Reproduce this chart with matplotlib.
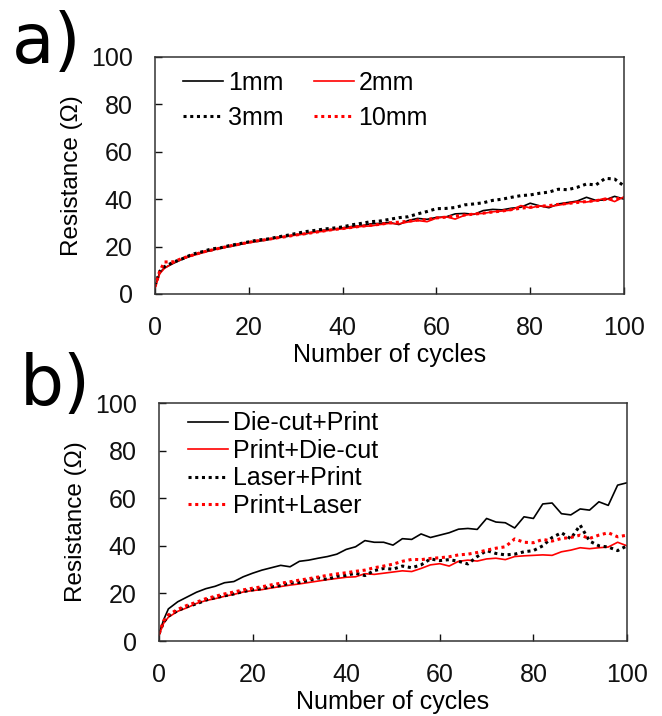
"""
Resistance vs. number of bending cycles: a) line width, b) process order.
"""

import matplotlib.pyplot as plt

plt.rcParams["font.family"] = ["Liberation Sans", "DejaVu Sans"]

# cycle numbers at which the resistance was read
CYCLES = [0, 1] + list(range(2, 101, 2))

# a) line widths (ohm)
R_1MM = [3, 9, 11, 13, 14.8, 16.3, 17.5, 18.3, 19.5, 20, 20.8, 21.9, 22.2, 22.9,
         23.8, 24.2, 25, 25.3, 26.2, 26.9, 27.2, 27.9, 28.5, 28.7, 29.6, 29.8,
         30.2, 29.3, 31, 31.9, 31.5, 32.3, 32.5, 33.8, 34, 33.6, 35.2, 35.7, 35.5,
         36.2, 36.6, 38.3, 37.2, 36.4, 38, 38.6, 39.2, 40.8, 39.5, 39.7, 41.2, 40]
R_2MM = [2.5, 8.5, 10.8, 13.2, 15, 16.2, 17.3, 18.6, 19.2, 20.2, 21, 21.6, 22.4,
         23.1, 23.5, 24.4, 24.8, 25.5, 26, 26.5, 27.1, 27.5, 28, 28.5, 28.7, 29.3,
         29.8, 29.6, 30.4, 31, 30.5, 32, 32.6, 31.6, 33.2, 33.8, 34, 34.7, 35,
         35.4, 37.3, 36.3, 37.2, 36.8, 37.5, 38.1, 39, 38.8, 39.4, 40.4, 39, 41]
R_3MM = [3.5, 9.5, 11.5, 13.5, 15, 16.8, 17.8, 19, 19.5, 20.5, 21.2, 22, 22.8,
         23.2, 24, 24.7, 25.5, 26.3, 26.8, 27.4, 27.8, 28.3, 29.2, 29.8, 30.5,
         30.8, 31.5, 32.2, 32.6, 33.8, 34.8, 36, 36.1, 36.5, 37.6, 38, 38.5, 39.5,
         40, 40.8, 41.5, 41.8, 42.5, 43, 44.2, 44, 45, 46.4, 46, 48.8, 48.5, 45.6]
R_10MM = [3, 9.5, 13.5, 13.6, 15.2, 16.4, 17.6, 18.5, 19.4, 20.3, 21, 21.8, 22.5,
          23, 23.7, 24.2, 24.9, 25.4, 26, 26.6, 27.2, 27.6, 28.1, 28.6, 29, 29.4,
          30, 30.3, 30.7, 31.2, 31.4, 32.1, 32.4, 32.9, 33.3, 33.7, 34.1, 34.6, 35,
          35.6, 36.2, 36.6, 37, 37.3, 37.8, 38.2, 38.6, 39, 39.4, 39.9, 40.2, 40.5]

# b) process order (ohm)
R_DIECUT_PRINT = [3, 9, 13.5, 16.5, 18.5, 20.5, 22, 23, 24.5, 25, 27, 28.5,
                  29.8, 30.8, 31.8, 31.2, 33.5, 34, 34.8, 35.5, 36.5, 38.5, 39.6,
                  42.2, 41.5, 41.5, 40.3, 43, 42.7, 45, 43.5, 44.5, 45.5, 47, 47.3,
                  46.9, 51.5, 50, 49.7, 47.5, 52.2, 51.5, 57.6, 58, 53.5, 53, 55.5,
                  55, 58.5, 57, 65.5, 66.5]
R_PRINT_DIECUT = [2.5, 7.5, 10, 12.5, 14, 15.8, 17, 17.8, 18.8, 19.6, 20.6, 21.2,
                  21.6, 22.3, 22.9, 23.5, 24, 24.6, 25.2, 25.8, 26.3, 26.8, 27,
                  28.3, 28, 28.5, 29, 29.5, 29.2, 30.5, 32, 32.5, 31.5, 33.5, 34,
                  33.6, 34.5, 34.8, 34.2, 35.5, 35.8, 36, 36.2, 36, 37.5, 38.2, 39.2,
                  38.8, 39.2, 39.5, 41.5, 40]
R_LASER_PRINT = [3, 8, 10.5, 12.8, 14.5, 15.6, 17.2, 18.2, 19, 19.8, 20.8, 21.5,
                 22, 22.8, 23.3, 24.4, 24.6, 25.5, 26.5, 25.9, 27.2, 27.6, 28.5,
                 27.5, 29.6, 30.5, 30.2, 31.5, 30.8, 32, 34.5, 33.8, 34.2, 33.5,
                 32.4, 35.5, 38, 36.8, 36.2, 36.5, 37.5, 38, 40, 43.5, 45.5, 43,
                 48.7, 42, 40, 39.5, 38, 40]
R_PRINT_LASER = [3, 8.5, 11, 13.3, 15, 16.3, 17.8, 18.8, 19.8, 20.6, 21.5, 22.2,
                 22.8, 23.6, 24.3, 24.9, 25.6, 26.2, 26.9, 27.6, 28.2, 28.7, 29.3,
                 29.8, 30.8, 31.5, 32.3, 33.5, 34.3, 34.2, 34.7, 35, 35.4, 36.2,
                 36.5, 37.2, 38.2, 39, 39.6, 42.9, 41.5, 41.3, 42.7, 42, 43.1, 43.5,
                 44.5, 43.1, 44.5, 45.5, 43.8, 44.5]

SOLID = dict(linestyle="-", linewidth=1.2)
DOTTED = dict(linestyle=(0, (1, 1.2)), linewidth=2.2)


def style_axes(ax):
    ax.set_xlim(0, 100)
    ax.set_ylim(0, 100)
    ax.set_xticks([0, 20, 40, 60, 80, 100])
    ax.set_yticks([0, 20, 40, 60, 80, 100])
    ax.tick_params(direction="in", length=5, width=1.0, labelsize=18, pad=16,
                   colors="#111111", top=False, right=False)
    for sp in ax.spines.values():
        sp.set_linewidth(1.1)
        sp.set_color("#333333")
    ax.set_xlabel("Number of cycles", fontsize=18, labelpad=2)
    ax.set_ylabel("Resistance (Ω)", fontsize=17.5, labelpad=6)


fig = plt.figure(figsize=(6.62, 7.16), dpi=100)

# a)
ax_a = fig.add_axes([0.2341, 0.5894, 0.7085, 0.331])
h1, = ax_a.plot(CYCLES, R_1MM, color="black", label="1mm", **SOLID)
h2, = ax_a.plot(CYCLES, R_2MM, color="red", label="2mm", **SOLID)
h3, = ax_a.plot(CYCLES, R_3MM, color="black", label="3mm", **DOTTED)
h4, = ax_a.plot(CYCLES, R_10MM, color="red", label="10mm", **DOTTED)
style_axes(ax_a)
ax_a.legend([h1, h3, h2, h4], ["1mm", "3mm", "2mm", "10mm"], ncol=2,
            loc="upper left", bbox_to_anchor=(0.06, 0.94), frameon=False,
            fontsize=18, handlelength=1.6, handletextpad=0.2, columnspacing=1.2,
            labelspacing=0.42, borderpad=0, borderaxespad=0)

# b)
ax_b = fig.add_axes([0.2402, 0.1047, 0.7069, 0.3324])
ax_b.plot(CYCLES, R_DIECUT_PRINT, color="black", label="Die-cut+Print", **SOLID)
ax_b.plot(CYCLES, R_PRINT_DIECUT, color="red", label="Print+Die-cut", **SOLID)
ax_b.plot(CYCLES, R_LASER_PRINT, color="black", label="Laser+Print", **DOTTED)
ax_b.plot(CYCLES, R_PRINT_LASER, color="red", label="Print+Laser", **DOTTED)
style_axes(ax_b)
ax_b.legend(loc="upper left", bbox_to_anchor=(0.062, 0.965), frameon=False,
            fontsize=18, handlelength=1.6, handletextpad=0.2,
            labelspacing=0.14, borderpad=0, borderaxespad=0)

fig.text(0.018, 0.912, "a)", fontsize=50, family="DejaVu Sans", va="baseline")
fig.text(0.030, 0.434, "b)", fontsize=50, family="DejaVu Sans", va="baseline")

fig.savefig("out.png", dpi=100)
